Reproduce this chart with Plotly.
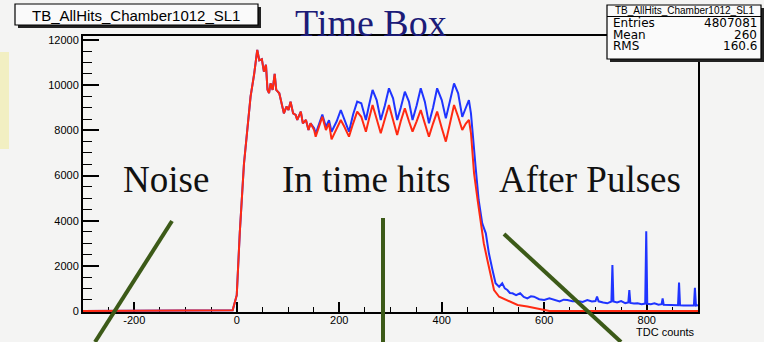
import plotly.graph_objects as go

# ---------------- data ----------------
red_x = [-300, -20, -8, 0, 6, 14, 21, 27, 34, 40, 44, 49, 53, 57, 60, 63, 66, 70, 74, 77,
         83, 89, 92, 97, 101, 105, 110, 115, 118, 125, 129, 135, 140, 144, 151, 154, 161, 167,
         174, 180, 185, 195, 203, 210, 219, 227, 235, 243, 252, 258, 265, 273, 281, 289, 297,
         305, 313, 320, 328, 336, 343, 351, 359, 367, 375, 383, 391, 400, 408, 416, 424, 432,
         440, 447, 453, 457, 460, 463, 470, 476, 482, 489, 496, 502, 512, 525, 541, 548, 567,
         587, 600, 610, 900]
red_y = [0, 0, 30, 700, 3500, 6500, 8000, 9500, 10500, 11560, 11100, 11150, 10600, 10900,
         9800, 9650, 10080, 9790, 10500, 9790, 9640, 9050, 8750, 9050, 8900, 9270, 8750, 8680,
         8460, 8830, 8310, 8460, 8015, 8310, 8015, 7720, 8160, 8600, 8015, 8310, 7600, 8100,
         8460, 8160, 7720, 8300, 8830, 8600, 7940, 8500, 9120, 8500, 7870, 8500, 9120, 8460,
         7790, 8400, 8975, 8400, 7940, 8400, 8900, 8300, 7720, 8300, 8830, 8100, 7500, 8300,
         9120, 8600, 8015, 8300, 8460, 7880, 6830, 6100, 4915, 3880, 3000, 2260, 1520, 930,
         630, 490, 340, 270, 200, 120, 40, 0, 0]

blue_x = [-300, -20, -8, 0, 6, 14, 21, 27, 34, 40, 44, 49, 53, 57, 60, 63, 66, 70, 74, 77,
          83, 89, 92, 97, 101, 105, 110, 115, 118, 125, 129, 135, 140, 144, 151, 154, 161, 167,
          174, 180, 185, 195, 203, 210, 219, 227, 235, 243, 252, 258, 265, 273, 281, 289, 297,
          305, 313, 320, 328, 336, 343, 351, 359, 367, 375, 383, 391, 400, 408, 416, 424, 432,
          440, 447, 453, 457, 460, 466, 472, 479, 486, 492, 499, 505, 512, 518, 523, 528, 533,
          538, 545, 553, 560, 567, 574, 580, 590, 600, 610, 619, 630, 638, 645, 655, 665, 675,
          684, 693, 700, 703, 706, 715, 723, 731, 733, 735, 742, 750, 758, 764, 766, 768, 775,
          782, 790, 797, 799, 801, 808, 815, 823, 829, 831, 833, 840, 848, 856, 861, 863, 865,
          872, 880, 888, 892, 894, 896, 900]
blue_y = [0, 0, 30, 700, 3500, 6500, 8000, 9500, 10500, 11560, 11100, 11150, 10600, 10900,
          9800, 9650, 10080, 9790, 10500, 9790, 9640, 9050, 8750, 9050, 8900, 9270, 8750, 8680,
          8460, 8830, 8310, 8460, 8015, 8310, 8100, 7850, 8300, 8700, 8150, 8450, 7940, 8400,
          8900, 8500, 7940, 8700, 9270, 9200, 8460, 9100, 9790, 9340, 8460, 9100, 9860, 9420,
          8460, 9000, 9710, 9270, 8460, 9100, 9860, 9270, 8310, 9000, 9860, 9340, 8530, 9300,
          10080, 9640, 8600, 9000, 9340, 8750, 7870, 6390, 4915, 3880, 3440, 2555, 1815, 1230,
          1076, 1230, 1000, 930, 800, 783, 700, 783, 620, 560, 650, 633, 520, 487, 560, 487,
          420, 500, 487, 430, 442, 400, 487, 420, 442, 640, 430, 380, 341, 420, 2040, 420, 380,
          442, 350, 380, 930, 360, 330, 341, 300, 330, 3530, 320, 300, 341, 280, 300, 560, 280,
          270, 250, 270, 260, 1260, 250, 240, 250, 230, 240, 1030, 240, 250]

y_ticks = [0, 2000, 4000, 6000, 8000, 10000, 12000]
x_ticks = [-200, 0, 200, 400, 600, 800]

hist_name = "TB_AllHits_Chamber1012_SL1"
stats_labels = ["Entries", "Mean", "RMS"]
stats_values = ["4807081", "260", "160.6"]
region_labels = ["Noise", "In time hits", "After Pulses"]

# ---------------- layout helpers ----------------
W, H = 764, 342
L, R, T, B = 83, 66, 36, 30
PW, PH = W - L - R, H - T - B


def px(x):
    return (x - L) / PW


def py(y):
    return (H - B - y) / PH


BG = "#f4f4f3"
RED = "#ff2a12"
BLUE = "#1f34ff"
GREEN = "#3c5a18"

fig = go.Figure()
fig.add_trace(go.Scatter(x=blue_x, y=blue_y, mode="lines",
                         line=dict(color=BLUE, width=2), hoverinfo="skip"))
fig.add_trace(go.Scatter(x=red_x, y=red_y, mode="lines",
                         line=dict(color=RED, width=2), hoverinfo="skip"))

shapes = []
# pale yellow patch at left
shapes.append(dict(type="rect", xref="paper", yref="paper", x0=px(0), x1=px(9),
                   y0=py(149), y1=py(52), fillcolor="#f2efc2", line=dict(width=0), layer="below"))
# title box with shadow
shapes.append(dict(type="rect", xref="paper", yref="paper", x0=px(18), x1=px(261),
                   y0=py(28), y1=py(7), fillcolor="#222222", line=dict(width=0)))
shapes.append(dict(type="rect", xref="paper", yref="paper", x0=px(15), x1=px(258),
                   y0=py(25), y1=py(4), fillcolor="#fafafa", line=dict(color="black", width=1.2)))
# stats box with shadow
shapes.append(dict(type="rect", xref="paper", yref="paper", x0=px(610), x1=px(764),
                   y0=py(62), y1=py(8), fillcolor="#222222", line=dict(width=0)))
shapes.append(dict(type="rect", xref="paper", yref="paper", x0=px(607), x1=px(761),
                   y0=py(59), y1=py(5), fillcolor="#fafafa", line=dict(color="black", width=1.2)))
shapes.append(dict(type="line", xref="paper", yref="paper", x0=px(607), x1=px(761),
                   y0=py(16.5), y1=py(16.5), line=dict(color="black", width=1)))
# green pointer lines
for (x0, y0, x1, y1) in [(172, 221, 95, 342), (383, 218, 383, 342), (504, 234, 621, 342)]:
    shapes.append(dict(type="line", xref="paper", yref="paper", x0=px(x0), y0=py(y0),
                       x1=px(x1), y1=py(y1), line=dict(color=GREEN, width=4)))

ann = []
ann.append(dict(text=hist_name, x=px(136), y=py(15), xref="paper", yref="paper",
                showarrow=False, xanchor="center", yanchor="middle",
                font=dict(family="Liberation Sans", size=15, color="black")))
ann.append(dict(text="Time Box", x=px(371), y=py(23.5), xref="paper", yref="paper",
                showarrow=False, xanchor="center", yanchor="middle",
                font=dict(family="Liberation Serif", size=38, color="#1c1c78")))
ann.append(dict(text=hist_name, x=px(684), y=py(10.5), xref="paper", yref="paper",
                showarrow=False, xanchor="center", yanchor="middle",
                font=dict(family="Liberation Sans", size=10, color="black")))
for i, (lab, val) in enumerate(zip(stats_labels, stats_values)):
    yy = 23.5 + 11.3 * i
    ann.append(dict(text=lab, x=px(611), y=py(yy), xref="paper", yref="paper",
                    showarrow=False, xanchor="left", yanchor="middle",
                    font=dict(family="DejaVu Sans", size=12, color="black")))
    ann.append(dict(text=val, x=px(759), y=py(yy), xref="paper", yref="paper",
                    showarrow=False, xanchor="right", yanchor="middle",
                    font=dict(family="DejaVu Sans", size=12, color="black")))
for lab, cx in zip(region_labels, [166, 366, 590]):
    ann.append(dict(text=lab, x=px(cx), y=py(179), xref="paper", yref="paper",
                    showarrow=False, xanchor="center", yanchor="middle",
                    font=dict(family="Liberation Serif", size=37, color="#111111")))
ann.append(dict(text="TDC counts", x=px(697), y=py(332), xref="paper", yref="paper",
                showarrow=False, xanchor="right", yanchor="middle",
                font=dict(family="Liberation Sans", size=11, color="black")))

fig.update_layout(
    width=W, height=H,
    margin=dict(l=L, r=R, t=T, b=B, pad=0),
    paper_bgcolor=BG, plot_bgcolor=BG,
    showlegend=False,
    shapes=shapes, annotations=ann,
    xaxis=dict(range=[-300, 900], tickvals=x_ticks, ticktext=[str(v) for v in x_ticks],
               ticks="inside", ticklen=10, tickwidth=1.5, tickcolor="black",
               showline=True, linecolor="black", linewidth=2, mirror=True,
               showgrid=False, zeroline=False, layer="below traces",
               ticklabelstandoff=-3,
               tickfont=dict(family="Liberation Sans", size=11, color="black"),
               minor=dict(dtick=50, tick0=0, ticks="inside", ticklen=5, tickwidth=1.2,
                          tickcolor="black", showgrid=False)),
    yaxis=dict(range=[-44, 12177], tickvals=y_ticks, ticktext=[str(v) for v in y_ticks],
               ticks="inside", ticklen=16, tickwidth=1.5, tickcolor="black",
               showline=True, linecolor="black", linewidth=2, mirror=True,
               showgrid=False, zeroline=False, layer="below traces",
               tickfont=dict(family="Liberation Sans", size=11, color="black"),
               minor=dict(dtick=500, tick0=0, ticks="inside", ticklen=9, tickwidth=1.2,
                          tickcolor="black", showgrid=False)),
)

fig.write_html("out.html")
